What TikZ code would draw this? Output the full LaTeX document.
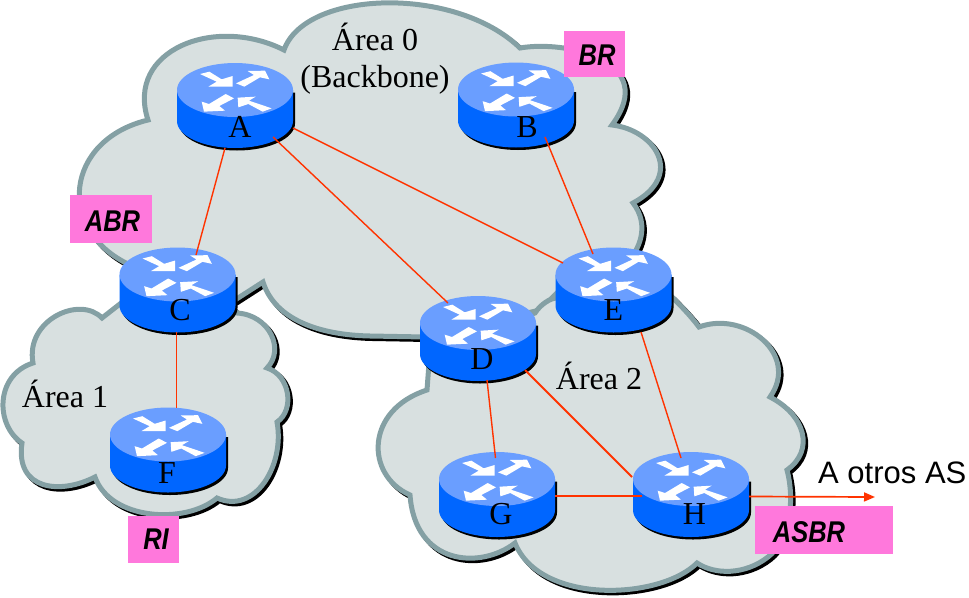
\documentclass[tikz,border=0pt]{standalone}
\usepackage{fontspec}
\setmainfont{Liberation Serif}
\setsansfont{Liberation Sans}
\usetikzlibrary{calc,arrows.meta}
\definecolor{cloudfill}{HTML}{D8E0E0}
\definecolor{cloudedge}{HTML}{84A0A4}
\definecolor{rose}{HTML}{FF78DC}
\definecolor{rtop}{HTML}{6A9EFF}
\definecolor{rbody}{HTML}{0066FF}
\definecolor{wire}{HTML}{FF3300}
\tikzset{
  shadowline/.style={draw=black,fill=black,line width=5pt,miter limit=10,shift={(2.5,2.5)}},
  cloudshape/.style={draw=cloudedge,fill=cloudfill,line width=5pt,miter limit=10},
  link/.style={draw=wire,line width=1.4pt},
  serifbig/.style={font=\fontsize{32}{36}\selectfont,inner sep=0pt,anchor=base},
  rletter/.style={font=\fontsize{32}{36}\selectfont,inner sep=0pt},
  tagbox/.style={fill=none,inner sep=0pt,font=\sffamily\bfseries\itshape\fontsize{30}{33}\selectfont},
  rhole/.style={inner sep=0pt,minimum width=116pt,minimum height=84pt},
}
\newcommand\areazero{(284,50)
  .. controls (305,-10) and (455,-15) .. (520,48)
  .. controls (565,40) and (660,60) .. (612,125)
  .. controls (655,130) and (685,175) .. (633,203)
  .. controls (650,225) and (640,250) .. (625,265)
  -- (560,290) -- (540,310) -- (425,337) -- (370,336)
  .. controls (320,335) and (275,320) .. (263,282)
  -- (235,300) -- (130,265)
  .. controls (55,230) and (65,140) .. (148,120)
  .. controls (125,50) and (215,15) .. cycle}
\newcommand\areaone{(33,363)
  .. controls (25,320) and (80,295) .. (102,318)
  -- (125,300) -- (225,300) -- (237,313)
  .. controls (270,315) and (285,350) .. (267,368)
  .. controls (290,375) and (295,410) .. (277,422)
  .. controls (285,465) and (255,515) .. (217,498)
  .. controls (185,525) and (110,520) .. (95,477)
  .. controls (60,495) and (15,490) .. (22,443)
  .. controls (-5,425) and (-5,375) .. cycle}
\newcommand\areatwo{(535,313)
  .. controls (540,305) and (550,298) .. (557,298)
  -- (672,297)
  .. controls (680,305) and (690,315) .. (699,327)
  .. controls (745,310) and (800,355) .. (770,397)
  .. controls (805,415) and (815,450) .. (787,470)
  .. controls (795,500) and (790,540) .. (768,557)
  .. controls (745,575) and (715,575) .. (697,563)
  .. controls (660,600) and (540,605) .. (515,543)
  .. controls (480,570) and (415,565) .. (410,495)
  .. controls (365,475) and (365,410) .. (427,390)
  -- (430,350) -- cycle}
% #1 name, #2 centre x, #3 centre y, #4 letter dx, #5 letter dy
\newcommand\routerpic[5]{
  \begin{scope}[shift={(#2,#3)}]
    \fill[black,shift={(2,2.5)}] (-58,-15.5) -- (-58,15.5) arc[x radius=58,y radius=27,start angle=180,delta angle=-180] -- (58,-15.5) -- cycle;
    \fill[rbody] (-58,-15.5) -- (-58,15.5) arc[x radius=58,y radius=27,start angle=180,delta angle=-180] -- (58,-15.5) -- cycle;
    \fill[rtop] (0,-15.5) ellipse[x radius=58,y radius=27];
    \begin{scope}[shift={(0,-15.5)},x=0.3333pt,y=-0.3333pt]
      \fill[white] (-105,-48)--(-77,-55)--(-40,-32)--(-7,-42)--(-7,-10)--(-80,-10)--(-55,-25)--cycle;
      \fill[white] (3,-20)--(57,-45)--(38,-57)--(90,-58)--(103,-32)--(75,-38)--(28,-10)--cycle;
      \fill[white] (-3,25)--(-47,48)--(-30,62)--(-93,65)--(-100,35)--(-78,42)--(-28,12)--cycle;
      \fill[white] (110,55)--(83,65)--(40,42)--(10,52)--(8,23)--(62,20)--(42,32)--cycle;
    \end{scope}
  \end{scope}
  \node[rhole] (#1) at (#2,#3) {};
  \node[rletter] (#1-name) at ($(#1.center)+(#4,#5)$) {#1};
}
\newcommand\linkup[5][]{\draw[link,#1] ($(#2)+(#3)$) -- ($(#4)+(#5)$);}
\begin{document}
\begin{tikzpicture}[x=1pt,y=-1pt]
\useasboundingbox (0,0) rectangle (969,597);
\path[shadowline] \areazero;
\path[cloudshape] \areazero;
\path[shadowline] \areaone;
\path[cloudshape] \areaone;
\path[shadowline] \areatwo;
\path[cloudshape] \areatwo;

\routerpic{A}{235}{105.5}{5}{21}
\routerpic{B}{516}{105}{11}{22}
\routerpic{C}{177.5}{290}{2.5}{20}
\routerpic{D}{478}{338.5}{4}{21}
\routerpic{E}{613.5}{290}{0}{20}
\routerpic{F}{168}{450}{-1}{23}
\routerpic{G}{497}{494.5}{4}{20}
\routerpic{H}{691}{494.5}{3.5}{20}

\linkup{A}{-10,42.5}{C}{18.5,-35}
\linkup{A}{38,31.5}{D}{-30,-35.5}
\linkup{A}{58,22.5}{E}{-50.5,-27}
\linkup{B}{29,32}{E}{-20.5,-36}
\linkup[line width=.9pt]{C}{-1,42}{F}{8.5,-42}
\linkup{D}{9,41.5}{G}{-1.5,-36.5}
\linkup[line width=1.8pt]{D}{47,31.5}{H}{-59,-17.5}
\linkup{E}{27.5,42}{H}{-10,-36.5}
\linkup[line width=1.1pt]{G}{58,1.5}{H}{-49,1.5}
\coordinate (toAS) at (875,497);
\draw[link,line width=1.7pt,-{Triangle[length=11pt,width=9pt]}] ($(H)+(58,2)$) -- (toAS);

\node[serifbig] (area0a) at (375,50) {Área 0};
\node[serifbig] (area0b) at (375,87) {(Backbone)};
\node[serifbig] (area1) at (65,407) {Área 1};
\node[serifbig] (area2) at (599,389) {Área 2};
\node[anchor=base west,inner sep=0pt,font=\sffamily\fontsize{31}{34}\selectfont] (otros) at (818,483) {A otros AS};

\fill[rose] (70,195) rectangle (152,243);
\fill[rose] (564,31) rectangle (625,77);
\fill[rose] (128,516) rectangle (179,563);
\fill[rose] (755,506) rectangle (893,554);
\node[tagbox] (abr) at (112.5,221) {\scalebox{.85}[1]{ABR}};
\node[tagbox] (br) at (597,55) {\scalebox{.85}[1]{BR}};
\node[tagbox] (ri) at (156,539) {\scalebox{.85}[1]{RI}};
\node[tagbox] (asbr) at (809,532) {\scalebox{.85}[1]{ASBR}};
\end{tikzpicture}
\end{document}
